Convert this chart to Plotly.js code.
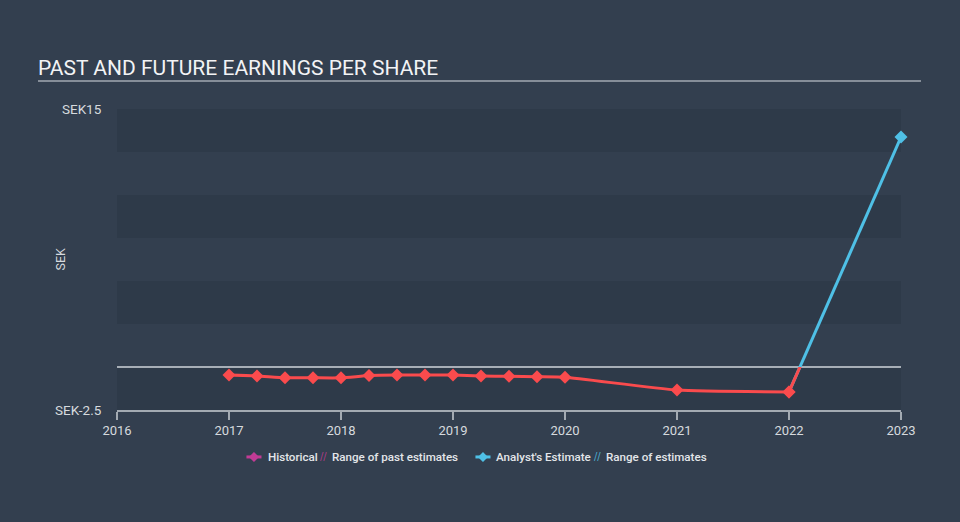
<!DOCTYPE html>
<html>
<head>
<meta charset="utf-8">
<script src="https://cdn.plot.ly/plotly-3.0.1.min.js"></script>
<style>
html,body{margin:0;padding:0;background:#333f4f;}
#chart{width:960px;height:522px;}
</style>
</head>
<body>
<div id="chart"></div>
<script>
// ---- data ----
const yearTicks = [2016, 2017, 2018, 2019, 2020, 2021, 2022, 2023];
const yearLabels = ['2016', '2017', '2018', '2019', '2020', '2021', '2022', '2023'];
const histX = [2017, 2017.25, 2017.5, 2017.75, 2018, 2018.25, 2018.5, 2018.75, 2019, 2019.25, 2019.5, 2019.75, 2020, 2021, 2022];
const histEPS = [-0.47, -0.52, -0.62, -0.63, -0.63, -0.5, -0.47, -0.47, -0.47, -0.52, -0.54, -0.57, -0.6, -1.34, -1.45];
const fcX = [2022, 2023];
const fcEPS = [-1.45, 13.37];
const yTickVals = [-2.5, 15];
const yTickText = ['SEK-2.5', 'SEK15'];
const bandRanges = [[12.5, 15], [7.5, 10], [2.5, 5], [-2.5, 0]];

const RED = '#fa4b4d';
const BLUE = '#4fc0e6';
const MAGENTA = '#c23b95';
const AXIS = '#a3aab2';
const TEXT = '#d6dade';

const traces = [
  {
    x: histX, y: histEPS, xaxis: 'x', yaxis: 'y',
    mode: 'lines+markers', type: 'scatter', showlegend: false, hoverinfo: 'skip',
    line: {color: RED, width: 3, shape: 'spline', smoothing: 0.5},
    marker: {symbol: 'diamond', size: 10, color: RED, line: {width: 0}}
  },
  {
    x: fcX, y: fcEPS, xaxis: 'x', yaxis: 'y', cliponaxis: false,
    mode: 'lines', type: 'scatter', showlegend: false, hoverinfo: 'skip',
    line: {color: BLUE, width: 3}
  },
  {
    x: fcX.slice(1), y: fcEPS.slice(1), xaxis: 'x', yaxis: 'y', cliponaxis: false,
    mode: 'markers', type: 'scatter', showlegend: false, hoverinfo: 'skip',
    marker: {symbol: 'diamond', size: 10, color: BLUE, line: {width: 0}}
  },
  // same forecast, drawn on a sub-axis covering only the negative region (clipped there) -> red below zero
  {
    x: fcX, y: fcEPS, xaxis: 'x', yaxis: 'y2',
    mode: 'lines', type: 'scatter', showlegend: false, hoverinfo: 'skip',
    line: {color: RED, width: 3}
  },
  {
    x: [histX[histX.length - 1]], y: [histEPS[histEPS.length - 1]], xaxis: 'x', yaxis: 'y2',
    mode: 'markers', type: 'scatter', showlegend: false, hoverinfo: 'skip', cliponaxis: false,
    marker: {symbol: 'diamond', size: 10, color: RED, line: {width: 0}}
  }
];

const shapes = bandRanges.map(r => ({
  type: 'rect', xref: 'paper', yref: 'y', x0: 0, x1: 1, y0: r[0], y1: r[1],
  fillcolor: '#2e3a49', line: {width: 0}, layer: 'below'
}));
// title underline
shapes.push({type: 'line', xref: 'paper', yref: 'paper', x0: -0.1008, x1: 1.0255, y0: 1.093, y1: 1.093,
  line: {color: '#a3aab2', width: 1.5}});
// zero line
shapes.push({type: 'line', xref: 'paper', yref: 'y', x0: 0, x1: 1, y0: 0, y1: 0,
  line: {color: '#a7aeb6', width: 2}, layer: 'below'});

// legend icons
function legendIcon(cx, color) {
  shapes.push({type: 'line', xref: 'paper', yref: 'paper', x0: cx - 0.0096, x1: cx + 0.0096, y0: -0.156, y1: -0.156,
    line: {color: color, width: 3}});
  shapes.push({type: 'path', xref: 'paper', yref: 'paper', xsizemode: 'pixel', ysizemode: 'pixel',
    xanchor: cx, yanchor: -0.156, path: 'M 0 -5 L 5 0 L 0 5 L -5 0 Z', fillcolor: color, line: {width: 0}});
}
legendIcon(0.1747, MAGENTA);
legendIcon(0.4668, BLUE);

const legFont = {family: 'Roboto, sans-serif', size: 11.6, color: '#e3e6e9', weight: 500};
const annotations = [
  {xref: 'paper', yref: 'paper', x: 0.1905, y: -0.156, xanchor: 'left', yanchor: 'middle', showarrow: false, text: 'Historical', font: legFont},
  {xref: 'paper', yref: 'paper', x: 0.2628, y: -0.156, xanchor: 'center', yanchor: 'middle', showarrow: false, text: '//', font: {family: 'DejaVu Sans', size: 10, color: 'rgba(194,59,149,0.85)'}},
  {xref: 'paper', yref: 'paper', x: 0.2722, y: -0.156, xanchor: 'left', yanchor: 'middle', showarrow: false, text: 'Range of past estimates', font: legFont},
  {xref: 'paper', yref: 'paper', x: 0.4813, y: -0.156, xanchor: 'left', yanchor: 'middle', showarrow: false, text: "Analyst's Estimate", font: legFont},
  {xref: 'paper', yref: 'paper', x: 0.6129, y: -0.156, xanchor: 'center', yanchor: 'middle', showarrow: false, text: '//', font: {family: 'DejaVu Sans', size: 10, color: 'rgba(79,192,230,0.85)'}},
  {xref: 'paper', yref: 'paper', x: 0.6216, y: -0.156, xanchor: 'left', yanchor: 'middle', showarrow: false, text: 'Range of estimates', font: legFont},
  {xref: 'paper', yref: 'paper', x: -0.0727, y: 0.5, xanchor: 'center', yanchor: 'middle', showarrow: false, textangle: -90, text: 'SEK',
    font: {family: 'Roboto, sans-serif', size: 12.5, color: TEXT}}
];

const layout = {
  width: 960, height: 522,
  paper_bgcolor: '#333f4f', plot_bgcolor: 'rgba(0,0,0,0)',
  margin: {l: 117, r: 59, t: 109, b: 112, pad: 0},
  showlegend: false,
  font: {family: 'Roboto, sans-serif', color: TEXT},
  title: {
    text: 'PAST AND FUTURE EARNINGS PER SHARE',
    xref: 'container', yref: 'container', x: 38 / 960, xanchor: 'left', y: 1 - 68 / 522, yanchor: 'middle',
    font: {family: 'Roboto, sans-serif', size: 21, color: '#f2f3f5'}
  },
  xaxis: {
    range: [2016, 2023], fixedrange: true,
    tickvals: yearTicks, ticktext: yearLabels,
    showgrid: false, zeroline: false,
    showline: true, linecolor: AXIS, linewidth: 1.5,
    ticks: 'outside', ticklen: 8, tickwidth: 1.5, tickcolor: AXIS,
    tickfont: {family: 'Roboto, sans-serif', size: 13, color: TEXT}
  },
  yaxis: {
    range: [-2.5, 15], domain: [0, 1], fixedrange: true,
    tickvals: yTickVals, ticktext: yTickText,
    showgrid: false, zeroline: false, showline: false,
    ticks: 'outside', ticklen: 12, tickcolor: 'rgba(0,0,0,0)',
    tickfont: {family: 'Roboto, sans-serif', size: 13.5, color: TEXT}
  },
  yaxis2: {
    range: [-2.5, 0], domain: [0, 2.5 / 17.5], anchor: 'x', visible: false, fixedrange: true
  },
  shapes: shapes,
  annotations: annotations
};

Plotly.newPlot('chart', traces, layout, {displayModeBar: false, staticPlot: true});
</script>
</body>
</html>
